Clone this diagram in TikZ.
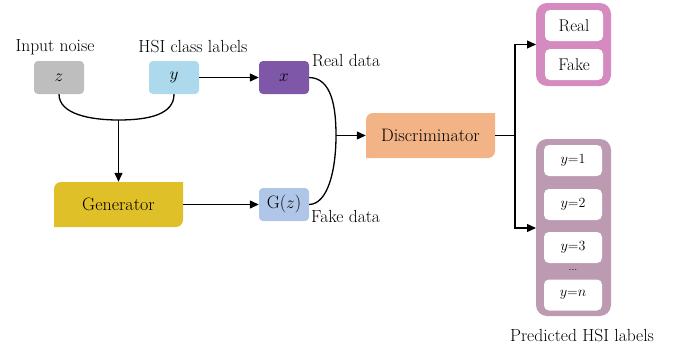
\documentclass[tikz,border=0pt]{standalone}
\usepackage{fontspec}
\usetikzlibrary{arrows.meta,calc}
\definecolor{noisegray}{HTML}{BEBEBE}
\definecolor{labelblue}{HTML}{ADD9EC}
\definecolor{realpurple}{HTML}{7F57A8}
\definecolor{gengold}{HTML}{E0C028}
\definecolor{fakeblue}{HTML}{B0C6E8}
\definecolor{discorange}{HTML}{F2B386}
\definecolor{outpink}{HTML}{D58BBF}
\definecolor{outmauve}{HTML}{BC9AB2}
\tikzset{
  txt/.style={font=\fontsize{17.5}{19}\selectfont, inner sep=0pt},
  smallbox/.style={rounded corners=4pt, minimum width=50pt, minimum height=33pt, inner sep=0pt, font=\fontsize{18}{20}\selectfont},
  bigbox/.style={minimum width=129pt, minimum height=45pt, inner sep=0pt, font=\fontsize{18}{20}\selectfont},
  slot/.style={fill=white, rounded corners=5pt, minimum width=58pt, minimum height=31pt, inner sep=0pt, font=\fontsize{17}{19}\selectfont},
  classslot/.style={slot, font=\fontsize{14}{16}\selectfont},
  conn/.style={line width=1.3pt},
  arr/.style={conn, -{Triangle[length=9pt,width=8pt]}},
}
\begin{document}
\begin{tikzpicture}[x=1pt,y=-1pt]
\useasboundingbox (0,0) rectangle (673,351);

% inputs
\node[smallbox, fill=noisegray] (z) at (59,77.5) {$z$};
\node[smallbox, fill=labelblue] (y) at (174,77.5) {$y$};
\node[smallbox, fill=realpurple] (x) at (284,77.5) {$x$};
\node[smallbox, fill=fakeblue] (gz) at (284,204.5) {G($z$)};
\node[txt] (tnoise) at (55,47) {Input noise};
\node[txt] (tlabels) at (193,47) {HSI class labels};
\node[txt, anchor=west] (treal) at (312,61) {Real data};
\node[txt, anchor=west] (tfake) at (311,216) {Fake data};

% generator and discriminator: rounded top-left and bottom-right corners
\fill[gengold, rounded corners=7pt] (54,182) rectangle (183,227);
\fill[gengold] (175,182) rectangle (183,190) (54,219) rectangle (62,227);
\node[bigbox] (gen) at (118.5,204.5) {Generator};
\fill[discorange, rounded corners=7pt] (366,113) rectangle (495,158);
\fill[discorange] (487,113) rectangle (495,121) (366,150) rectangle (374,158);
\node[bigbox] (disc) at (430.5,135.5) {Discriminator};

% output: real / fake
\fill[outpink, rounded corners=11pt] (536,3) rectangle (611,86);
\node[slot] (real) at (574,25.5) {Real};
\node[slot] (fake) at (574,64.5) {Fake};
\coordinate (rf) at (536,44.5);

% output: predicted class labels
\fill[outmauve, rounded corners=11pt] (536,139) rectangle (611,316);
\node[classslot] (c1) at (573,160.5) {$y$=1};
\node[classslot] (c2) at (573,204.5) {$y$=2};
\node[classslot] (c3) at (573,247.5) {$y$=3};
\node[font=\fontsize{11}{12}\selectfont, inner sep=0pt] (dots) at (573,270) {...};
\node[classslot] (cn) at (573,295) {$y$=$n$};
\coordinate (pl) at (536,228);
\node[txt] (tpred) at (582,336) {Predicted HSI labels};

% connectors
\coordinate (m) at (118.5,120);
\draw[conn] (z.south) .. controls (59,114) and (90,120) .. (m)
            .. controls (150,120) and (174,114) .. (y.south);
\draw[arr] (m) -- (gen.north);
\draw[arr] (y.east) -- (x.west);
\draw[arr] (gen.east) -- (gz.west);
\coordinate (j) at (336,135.5);
\draw[conn] (x.east) .. controls (332,78) and (336,108) .. (j)
            .. controls (336,170) and (328,204) .. (gz.east);
\draw[arr] (j) -- (disc.west);
\coordinate (b) at (515,135.5);
\draw[conn] (disc.east) -- (b);
\draw[arr] (b) |- (rf);
\draw[arr] (b) |- (pl);
\end{tikzpicture}
\end{document}
